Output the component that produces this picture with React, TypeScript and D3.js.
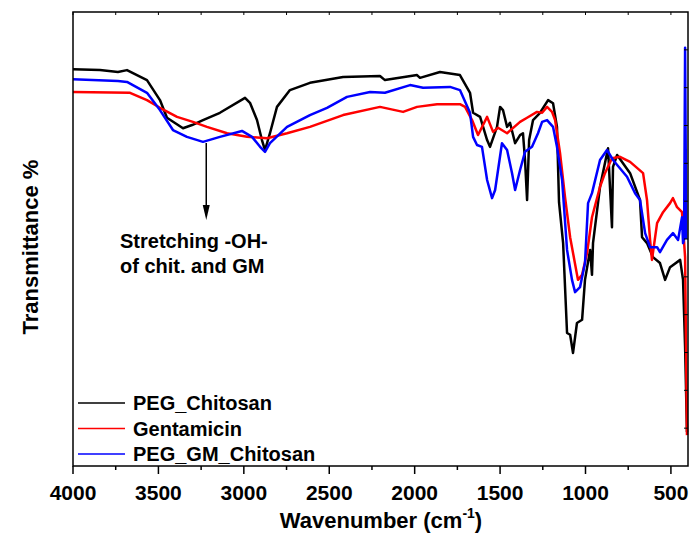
import { useEffect, useRef } from 'react';
import * as d3 from 'd3';

// [wavenumber cm-1, transmittance (a.u. %)]
const pegChitosan: [number, number][] = [
  [4000, 87.4], [3842, 87.2], [3737, 86.8], [3684, 87.2], [3567, 85.0], [3491, 80.6],
  [3450, 76.7], [3356, 74.4], [3303, 75.1], [3239, 76.2], [3140, 77.8], [2993, 81.1],
  [2964, 80.0], [2923, 76.2], [2894, 71.8], [2876, 69.6], [2847, 73.3], [2806, 79.1],
  [2730, 82.8], [2613, 84.4], [2419, 85.7], [2203, 85.9], [2174, 85.0], [1986, 86.1],
  [1969, 85.5], [1852, 86.8], [1735, 86.1], [1676, 82.2], [1658, 77.8], [1617, 76.9],
  [1576, 71.8], [1559, 70.3], [1518, 74.7], [1500, 79.1], [1483, 78.4], [1459, 74.7],
  [1442, 75.6], [1412, 71.1], [1383, 72.9], [1366, 73.3], [1354, 67.4], [1342, 58.6],
  [1330, 71.8], [1307, 76.2], [1266, 77.8], [1219, 80.6], [1190, 79.9], [1167, 74.7],
  [1155, 58.1], [1131, 49.1], [1108, 29.3], [1090, 28.9], [1073, 24.9], [1050, 31.5],
  [1020, 32.2], [1003, 41.0], [973, 47.6], [962, 42.1], [956, 49.1], [915, 61.5],
  [868, 70.0], [845, 52.6], [839, 65.9], [815, 68.5], [739, 64.5], [681, 58.6],
  [669, 50.4], [640, 49.1], [605, 46.0], [564, 44.7], [534, 41.0], [505, 43.8],
  [446, 45.4], [429, 41.0], [417, 26.2], [406, 7.5]
];

const gentamicin: [number, number][] = [
  [4000, 82.4], [3666, 82.2], [3567, 80.6], [3491, 78.9], [3391, 76.9], [3298, 75.8],
  [3216, 74.7], [3098, 73.3], [2981, 72.5], [2864, 72.2], [2747, 73.3], [2613, 74.7],
  [2419, 77.3], [2203, 79.1], [2068, 78.0], [1986, 79.1], [1869, 79.7], [1735, 79.7],
  [1705, 79.1], [1664, 76.2], [1629, 72.9], [1576, 76.9], [1541, 73.6], [1512, 74.5],
  [1459, 73.3], [1383, 75.8], [1342, 76.7], [1284, 78.0], [1254, 77.8], [1225, 79.1],
  [1196, 78.0], [1178, 76.2], [1149, 68.9], [1120, 59.3], [1090, 50.4], [1044, 41.0],
  [1020, 42.1], [991, 46.9], [962, 54.8], [915, 61.5], [886, 64.5], [845, 67.8],
  [798, 68.1], [739, 67.0], [663, 64.5], [640, 58.6], [622, 49.8], [611, 45.4],
  [581, 53.5], [546, 55.9], [505, 57.9], [488, 59.0], [464, 57.0], [435, 55.9],
  [417, 46.0], [406, 6.8]
];

const pegGmChitosan: [number, number][] = [
  [4000, 85.2], [3737, 84.8], [3684, 84.6], [3567, 82.2], [3491, 78.4], [3415, 74.0],
  [3333, 72.5], [3239, 71.4], [3140, 72.5], [3011, 73.8], [2952, 72.5], [2905, 70.3],
  [2876, 69.2], [2847, 71.1], [2747, 74.7], [2613, 77.3], [2513, 78.9], [2396, 81.3],
  [2261, 82.4], [2174, 82.2], [2027, 83.9], [1951, 83.3], [1793, 83.5], [1735, 82.8],
  [1676, 77.8], [1658, 72.5], [1635, 70.7], [1606, 70.3], [1576, 63.0], [1547, 59.0],
  [1529, 60.8], [1489, 71.1], [1459, 69.6], [1430, 64.5], [1412, 60.8], [1383, 65.2],
  [1354, 69.2], [1313, 70.3], [1278, 73.3], [1254, 75.8], [1225, 76.2], [1190, 74.7],
  [1167, 70.3], [1137, 63.0], [1108, 47.6], [1079, 41.0], [1061, 38.3], [1032, 39.4],
  [1003, 44.7], [985, 57.9], [962, 60.1], [915, 67.4], [874, 69.6], [839, 67.4],
  [757, 63.7], [710, 60.1], [681, 58.6], [651, 51.3], [622, 48.2], [581, 48.2],
  [564, 47.1], [523, 49.8], [488, 51.3], [458, 49.8], [435, 54.8], [429, 49.1],
  [423, 50.0], [417, 92.1], [410, 50.0]
];

const seriesNames = ['PEG_Chitosan', 'Gentamicin', 'PEG_GM_Chitosan'];
const seriesColors = ['#000000', '#ff0000', '#0000ff'];
const xTickValues = [4000, 3500, 3000, 2500, 2000, 1500, 1000, 500];

const W = 692;
const H = 554;
const FONT = '"Liberation Sans", Arial, sans-serif';

export default function App() {
  const svgRef = useRef<SVGSVGElement>(null);

  useEffect(() => {
    if (!svgRef.current) return;
    const svg = d3.select(svgRef.current);
    svg.selectAll('*').remove();

    const left = 73, right = 688, top = 12, bottom = 466;
    const x = d3.scaleLinear().domain([4000, 400]).range([left, right]);
    const y = d3.scaleLinear().domain([0, 100]).range([bottom, top]);

    const line = d3.line<[number, number]>()
      .x(d => x(d[0]))
      .y(d => y(d[1]));

    // draw order: black, red, blue on top
    const all = [pegChitosan, gentamicin, pegGmChitosan];
    [0, 1, 2].forEach(i => {
      svg.append('path')
        .attr('d', line(all[i]) as string)
        .attr('fill', 'none')
        .attr('stroke', seriesColors[i])
        .attr('stroke-width', 2.5)
        .attr('stroke-linejoin', 'round');
    });

    // frame
    svg.append('rect')
      .attr('x', left).attr('y', top)
      .attr('width', right - left).attr('height', bottom - top)
      .attr('fill', 'none').attr('stroke', '#000').attr('stroke-width', 1.5);

    // bottom ticks (outward) + top ticks (inward)
    d3.range(4000, 399, -250).forEach(v => {
      const major = v % 500 === 0;
      svg.append('line')
        .attr('x1', x(v)).attr('x2', x(v))
        .attr('y1', bottom).attr('y2', bottom + (major ? 8 : 4))
        .attr('stroke', '#000').attr('stroke-width', 1.5);
      svg.append('line')
        .attr('x1', x(v)).attr('x2', x(v))
        .attr('y1', top).attr('y2', top + 3)
        .attr('stroke', '#000').attr('stroke-width', 1);
    });

    // y ticks on the right (inward, no labels)
    d3.range(1, 12).map(i => (i * 100) / 12).forEach(v => {
      svg.append('line')
        .attr('x1', right).attr('x2', right - 4)
        .attr('y1', y(v)).attr('y2', y(v))
        .attr('stroke', '#000').attr('stroke-width', 1);
    });

    // x tick labels
    svg.append('g').selectAll('text')
      .data(xTickValues)
      .enter()
      .append('text')
      .attr('x', d => x(d))
      .attr('y', 500)
      .attr('text-anchor', 'middle')
      .style('font-family', FONT)
      .style('font-weight', 'bold')
      .style('font-size', '21px')
      .text(d => d);

    // axis titles
    const xt = svg.append('text')
      .attr('x', 381).attr('y', 528)
      .attr('text-anchor', 'middle')
      .style('font-family', FONT)
      .style('font-weight', 'bold')
      .style('font-size', '22px');
    xt.append('tspan').text('Wavenumber (cm');
    xt.append('tspan').attr('dy', -10).style('font-size', '14px').text('-1');
    xt.append('tspan').attr('dy', 10).text(')');

    svg.append('text')
      .attr('transform', 'translate(38,247) rotate(-90)')
      .attr('text-anchor', 'middle')
      .style('font-family', FONT)
      .style('font-weight', 'bold')
      .style('font-size', '22px')
      .text('Transmittance %');

    // legend
    seriesNames.forEach((name, i) => {
      const ly = 403 + i * 25.5;
      svg.append('line')
        .attr('x1', 78).attr('x2', 125)
        .attr('y1', ly).attr('y2', ly)
        .attr('stroke', seriesColors[i]).attr('stroke-width', 1.5);
      svg.append('text')
        .attr('x', 133).attr('y', ly + 7)
        .style('font-family', FONT)
        .style('font-weight', 'bold')
        .style('font-size', '20px')
        .text(name);
    });

    // annotation arrow
    const ax = x(3220);
    svg.append('line')
      .attr('x1', ax).attr('x2', ax)
      .attr('y1', 143).attr('y2', 212)
      .attr('stroke', '#000').attr('stroke-width', 1.5);
    svg.append('path')
      .attr('d', `M${ax - 3.5},${205} L${ax + 3.5},${205} L${ax},${220} Z`)
      .attr('fill', '#000');

    const ann = ['Stretching -OH-', 'of chit. and GM'];
    ann.forEach((t, i) => {
      svg.append('text')
        .attr('x', 120).attr('y', 248 + i * 25)
        .style('font-family', FONT)
        .style('font-weight', 'bold')
        .style('font-size', '20px')
        .text(t);
    });
  }, []);

  return (
    <svg
      ref={svgRef}
      width={W}
      height={H}
      style={{ position: 'absolute', left: 0, top: 0, background: '#fff' }}
    />
  );
}
